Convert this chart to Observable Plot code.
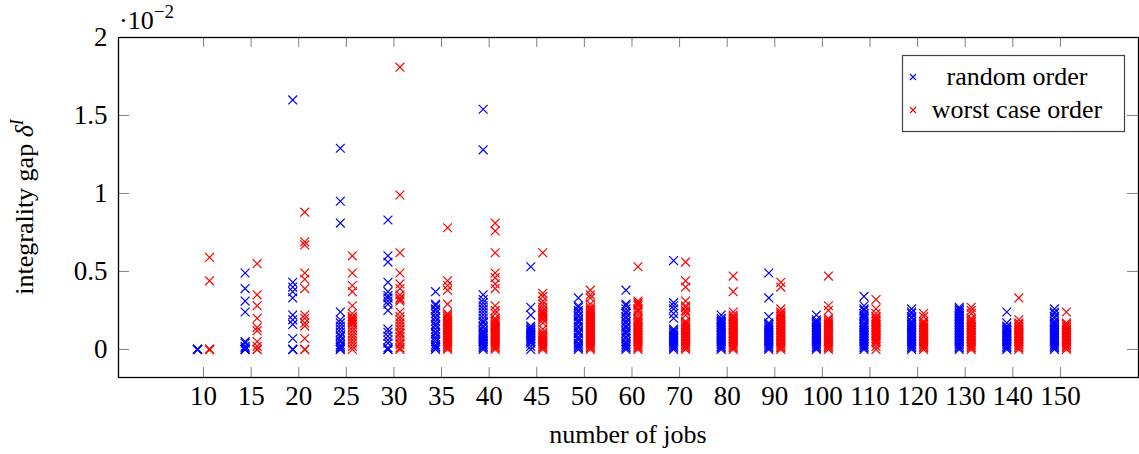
<!DOCTYPE html>
<html>
<head>
<meta charset="utf-8">
<script src="https://cdn.jsdelivr.net/npm/d3@7"></script>
<script src="https://cdn.jsdelivr.net/npm/@observablehq/plot@0.6"></script>
<style>
  html, body { margin: 0; padding: 0; background: #fff; }
  #chart { position: relative; width: 1139px; height: 454px; }
</style>
</head>
<body>
<div id="chart"></div>
<script>
// Number of jobs per instance group (one category per column on the x axis)
const jobs = [10, 15, 20, 25, 30, 35, 40, 45, 50, 60, 70, 80, 90, 100, 110, 120, 130, 140, 150];

// Integrality gap per instance, in units of 1e-2, random job order
const gapRandom = [
  [0, 0, 0, 0, 0],
  [0.49, 0.39, 0.31, 0.24, 0.05, 0.04, 0.02, 0.01, 0, 0, 0],
  [1.60, 0.43, 0.40, 0.37, 0.33, 0.22, 0.19, 0.16, 0.07, 0, 0, 0],
  [1.29, 0.95, 0.81, 0.24, 0.19, 0.17, 0.15, 0.13, 0.11, 0.09, 0.08, 0.06, 0.05, 0.03, 0.02, 0.01, 0, 0],
  [0.83, 0.60, 0.56, 0.43, 0.37, 0.345, 0.33, 0.31, 0.29, 0.25, 0.13, 0.11, 0.085, 0.06, 0.04, 0.01, 0, 0],
  [0.37, 0.29, 0.28, 0.26, 0.25, 0.23, 0.21, 0.2, 0.18, 0.16, 0.15, 0.13, 0.11, 0.1, 0.08, 0.065, 0.05, 0.03, 0.02, 0.01, 0],
  [1.54, 1.28, 0.35, 0.32, 0.30, 0.28, 0.26, 0.24, 0.22, 0.2, 0.18, 0.17, 0.15, 0.14, 0.12, 0.11, 0.1, 0.09, 0.08, 0.07, 0.06, 0.05, 0.04, 0.03, 0.02, 0.01, 0],
  [0.53, 0.27, 0.22, 0.15, 0.14, 0.13, 0.12, 0.11, 0.1, 0.09, 0.08, 0.07, 0.06, 0.05, 0.04, 0.02, 0],
  [0.33, 0.28, 0.27, 0.25, 0.24, 0.22, 0.21, 0.19, 0.18, 0.17, 0.15, 0.14, 0.12, 0.11, 0.1, 0.08, 0.07, 0.06, 0.04, 0.03, 0.02, 0.01, 0],
  [0.38, 0.29, 0.28, 0.26, 0.24, 0.23, 0.21, 0.2, 0.18, 0.17, 0.15, 0.14, 0.12, 0.11, 0.1, 0.08, 0.07, 0.05, 0.04, 0.03, 0.02, 0.01, 0],
  [0.57, 0.30, 0.28, 0.26, 0.23, 0.20, 0.13, 0.12, 0.11, 0.1, 0.09, 0.08, 0.07, 0.06, 0.05, 0.04, 0.03, 0.02, 0.01, 0],
  [0.22, 0.2, 0.19, 0.18, 0.17, 0.16, 0.15, 0.14, 0.13, 0.12, 0.11, 0.1, 0.09, 0.08, 0.07, 0.06, 0.05, 0.04, 0.03, 0.02, 0.01, 0],
  [0.49, 0.33, 0.21, 0.17, 0.16, 0.15, 0.14, 0.13, 0.12, 0.11, 0.1, 0.09, 0.08, 0.07, 0.06, 0.05, 0.04, 0.03, 0.02, 0.01, 0],
  [0.22, 0.19, 0.18, 0.17, 0.16, 0.15, 0.14, 0.13, 0.12, 0.11, 0.1, 0.09, 0.08, 0.07, 0.06, 0.05, 0.04, 0.03, 0.02, 0.01, 0],
  [0.34, 0.28, 0.26, 0.25, 0.23, 0.22, 0.21, 0.2, 0.19, 0.17, 0.16, 0.15, 0.14, 0.13, 0.12, 0.11, 0.1, 0.09, 0.08, 0.07, 0.06, 0.05, 0.04, 0.03, 0.02, 0.01, 0],
  [0.26, 0.24, 0.23, 0.21, 0.2, 0.18, 0.17, 0.16, 0.15, 0.14, 0.13, 0.12, 0.11, 0.1, 0.09, 0.08, 0.07, 0.06, 0.05, 0.04, 0.03, 0.02, 0.01, 0],
  [0.27, 0.26, 0.25, 0.24, 0.23, 0.22, 0.21, 0.2, 0.19, 0.18, 0.17, 0.16, 0.15, 0.14, 0.13, 0.12, 0.11, 0.1, 0.09, 0.08, 0.07, 0.06, 0.05, 0.04, 0.03, 0.02, 0.01, 0],
  [0.24, 0.17, 0.15, 0.14, 0.13, 0.12, 0.11, 0.1, 0.09, 0.08, 0.07, 0.06, 0.05, 0.04, 0.03, 0.02, 0.01, 0],
  [0.26, 0.24, 0.23, 0.21, 0.2, 0.18, 0.17, 0.16, 0.15, 0.14, 0.13, 0.12, 0.11, 0.1, 0.09, 0.08, 0.07, 0.06, 0.05, 0.04, 0.03, 0.02, 0.01, 0]
];

// Integrality gap per instance, in units of 1e-2, worst case job order
const gapWorst = [
  [0.59, 0.44, 0, 0, 0, 0],
  [0.55, 0.35, 0.28, 0.20, 0.14, 0.12, 0.05, 0.02, 0, 0],
  [0.88, 0.69, 0.67, 0.49, 0.45, 0.39, 0.22, 0.20, 0.17, 0.15, 0.07, 0, 0],
  [0.60, 0.49, 0.41, 0.37, 0.28, 0.23, 0.21, 0.2, 0.19, 0.18, 0.17, 0.16, 0.14, 0.12, 0.1, 0.08, 0.06, 0.04, 0.02, 0],
  [1.81, 0.99, 0.62, 0.49, 0.42, 0.39, 0.35, 0.33, 0.32, 0.31, 0.24, 0.21, 0.19, 0.17, 0.15, 0.13, 0.11, 0.1, 0.08, 0.06, 0.04, 0.03, 0.01, 0],
  [0.78, 0.44, 0.41, 0.38, 0.29, 0.23, 0.22, 0.21, 0.2, 0.19, 0.18, 0.17, 0.16, 0.15, 0.14, 0.13, 0.12, 0.11, 0.1, 0.09, 0.08, 0.07, 0.06, 0.05, 0.04, 0.03, 0.02, 0.01, 0],
  [0.81, 0.76, 0.62, 0.49, 0.46, 0.42, 0.39, 0.28, 0.25, 0.23, 0.2, 0.19, 0.18, 0.17, 0.16, 0.15, 0.14, 0.13, 0.12, 0.11, 0.1, 0.09, 0.08, 0.07, 0.06, 0.05, 0.04, 0.03, 0.02, 0.01, 0],
  [0.62, 0.36, 0.34, 0.31, 0.29, 0.27, 0.25, 0.24, 0.23, 0.22, 0.21, 0.2, 0.19, 0.17, 0.13, 0.11, 0.1, 0.09, 0.08, 0.07, 0.06, 0.05, 0.04, 0.03, 0.02, 0.01, 0],
  [0.38, 0.35, 0.33, 0.29, 0.27, 0.26, 0.25, 0.24, 0.23, 0.22, 0.21, 0.2, 0.19, 0.18, 0.17, 0.16, 0.15, 0.14, 0.13, 0.12, 0.11, 0.1, 0.09, 0.08, 0.07, 0.06, 0.05, 0.04, 0.03, 0.02, 0.01, 0],
  [0.53, 0.31, 0.30, 0.29, 0.28, 0.26, 0.25, 0.24, 0.22, 0.2, 0.19, 0.18, 0.17, 0.16, 0.15, 0.14, 0.13, 0.12, 0.11, 0.1, 0.09, 0.08, 0.07, 0.06, 0.05, 0.04, 0.03, 0.02, 0.01, 0],
  [0.56, 0.44, 0.40, 0.31, 0.28, 0.27, 0.25, 0.24, 0.22, 0.18, 0.17, 0.16, 0.15, 0.14, 0.13, 0.12, 0.11, 0.1, 0.09, 0.08, 0.07, 0.06, 0.05, 0.04, 0.03, 0.02, 0.01, 0],
  [0.47, 0.37, 0.24, 0.22, 0.21, 0.2, 0.19, 0.18, 0.17, 0.16, 0.15, 0.14, 0.13, 0.12, 0.11, 0.1, 0.09, 0.08, 0.07, 0.06, 0.05, 0.04, 0.03, 0.02, 0.01, 0],
  [0.43, 0.40, 0.26, 0.24, 0.23, 0.22, 0.21, 0.2, 0.19, 0.18, 0.17, 0.16, 0.15, 0.14, 0.13, 0.12, 0.11, 0.1, 0.09, 0.08, 0.07, 0.06, 0.05, 0.04, 0.03, 0.02, 0.01, 0],
  [0.47, 0.28, 0.25, 0.20, 0.19, 0.18, 0.17, 0.16, 0.15, 0.14, 0.13, 0.12, 0.11, 0.1, 0.09, 0.08, 0.07, 0.06, 0.05, 0.04, 0.03, 0.02, 0.01, 0],
  [0.32, 0.26, 0.23, 0.21, 0.2, 0.19, 0.18, 0.17, 0.16, 0.15, 0.14, 0.13, 0.12, 0.11, 0.1, 0.09, 0.08, 0.07, 0.06, 0.05, 0.04, 0.02, 0],
  [0.23, 0.21, 0.18, 0.17, 0.16, 0.15, 0.14, 0.13, 0.12, 0.11, 0.1, 0.09, 0.08, 0.07, 0.06, 0.05, 0.04, 0.03, 0.02, 0.01, 0],
  [0.27, 0.25, 0.23, 0.20, 0.19, 0.18, 0.17, 0.16, 0.15, 0.14, 0.13, 0.12, 0.11, 0.1, 0.09, 0.08, 0.07, 0.06, 0.05, 0.04, 0.03, 0.02, 0.01, 0],
  [0.33, 0.19, 0.17, 0.16, 0.15, 0.14, 0.13, 0.12, 0.11, 0.1, 0.09, 0.08, 0.07, 0.06, 0.05, 0.04, 0.03, 0.02, 0.01, 0],
  [0.24, 0.17, 0.16, 0.15, 0.14, 0.13, 0.12, 0.11, 0.1, 0.09, 0.08, 0.07, 0.06, 0.05, 0.04, 0.03, 0.02, 0.01, 0]
];

const yTicks = [0, 0.5, 1, 1.5, 2];
const seriesNames = ["random order", "worst case order"];
const seriesColors = ["#0000ff", "#ff0000"];

// Flatten into rows: category index + gap value
const toRows = (groups) => groups.flatMap((vals, i) => vals.map((v) => ({i, gap: v})));
const rowsRandom = toRows(gapRandom);
const rowsWorst = toRows(gapWorst);
const idx = jobs.map((_, i) => i);

const FONT = "'Liberation Serif', 'DejaVu Serif', serif";
const W = 1139, H = 454;
const mL = 118, mR = 1, mT = 37, mB = 77;
const frameW = W - mL - mR, frameH = H - mT - mB;
const tickLen = 10;

const svg = Plot.plot({
  width: W,
  height: H,
  marginLeft: mL,
  marginRight: mR,
  marginTop: mT,
  marginBottom: mB,
  style: {fontFamily: FONT, fontSize: "27px", color: "#000", background: "#fff"},
  x: {type: "linear", domain: [-1.786, 19.64]},
  y: {domain: [-0.18, 2]},
  marks: [
    // inward tick marks on all four sides
    Plot.tickX(idx, {x: (d) => d, insetTop: frameH - tickLen, stroke: "#808080", strokeWidth: 1}),
    Plot.tickX(idx, {x: (d) => d, insetBottom: frameH - tickLen, stroke: "#808080", strokeWidth: 1}),
    Plot.tickY(yTicks, {y: (d) => d, insetRight: frameW - tickLen - 1, stroke: "#808080", strokeWidth: 1}),
    Plot.tickY(yTicks, {y: (d) => d, insetLeft: frameW - tickLen - 1, stroke: "#808080", strokeWidth: 1}),
    Plot.axisX(idx, {
      tickSize: 0, tickPadding: 8, label: null,
      tickFormat: (i) => String(jobs[i])
    }),
    Plot.axisY(yTicks, {
      tickSize: 0, tickPadding: 11, label: null,
      tickFormat: (d) => String(d)
    }),
    Plot.dot(rowsRandom, {x: "i", y: "gap", dx: -6, symbol: "times", r: 4.1, stroke: seriesColors[0], strokeWidth: 1.2}),
    Plot.dot(rowsWorst, {x: "i", y: "gap", dx: 6, symbol: "times", r: 4.1, stroke: seriesColors[1], strokeWidth: 1.2}),
    Plot.frame({stroke: "#000", strokeWidth: 1.3})
  ]
});

const s = d3.select(svg);

// scale multiplier above the y axis
const mult = s.append("text")
  .attr("x", 119).attr("y", 29)
  .attr("text-anchor", "start")
  .attr("font-family", FONT).attr("font-size", 26).attr("fill", "#000");
mult.append("tspan").text("\u00b710");
mult.append("tspan").attr("dy", -11).attr("font-size", 19).text("\u22122");

// y axis title: integrality gap δ^I
const yl = s.append("text")
  .attr("transform", `translate(33, ${mT + frameH / 2}) rotate(-90)`)
  .attr("text-anchor", "middle")
  .attr("font-family", FONT).attr("font-size", 26).attr("fill", "#000");
yl.append("tspan").text("integrality gap ");
yl.append("tspan").attr("font-style", "italic").text("\u03b4");
yl.append("tspan").attr("font-style", "italic").attr("font-size", 18).attr("dy", -10).text("I");

// x axis title
s.append("text")
  .attr("x", mL + frameW / 2).attr("y", 443)
  .attr("text-anchor", "middle")
  .attr("font-family", FONT).attr("font-size", 26).attr("fill", "#000")
  .text("number of jobs");

// legend box
const lg = s.append("g");
lg.append("rect")
  .attr("x", 902.5).attr("y", 55.5).attr("width", 222).attr("height", 76)
  .attr("fill", "#fff").attr("stroke", "#444").attr("stroke-width", 1.2);
const rowsY = [77, 110];
seriesNames.forEach((name, k) => {
  const cy = rowsY[k];
  lg.append("path")
    .attr("d", `M${910},${cy - 3}L${916},${cy + 3}M${910},${cy + 3}L${916},${cy - 3}`)
    .attr("stroke", seriesColors[k]).attr("stroke-width", 1.1).attr("fill", "none");
  lg.append("text")
    .attr("x", 1017).attr("y", cy + 8)
    .attr("text-anchor", "middle")
    .attr("font-family", FONT).attr("font-size", 26).attr("fill", "#000")
    .text(name);
});

document.getElementById("chart").appendChild(svg);
</script>
</body>
</html>
